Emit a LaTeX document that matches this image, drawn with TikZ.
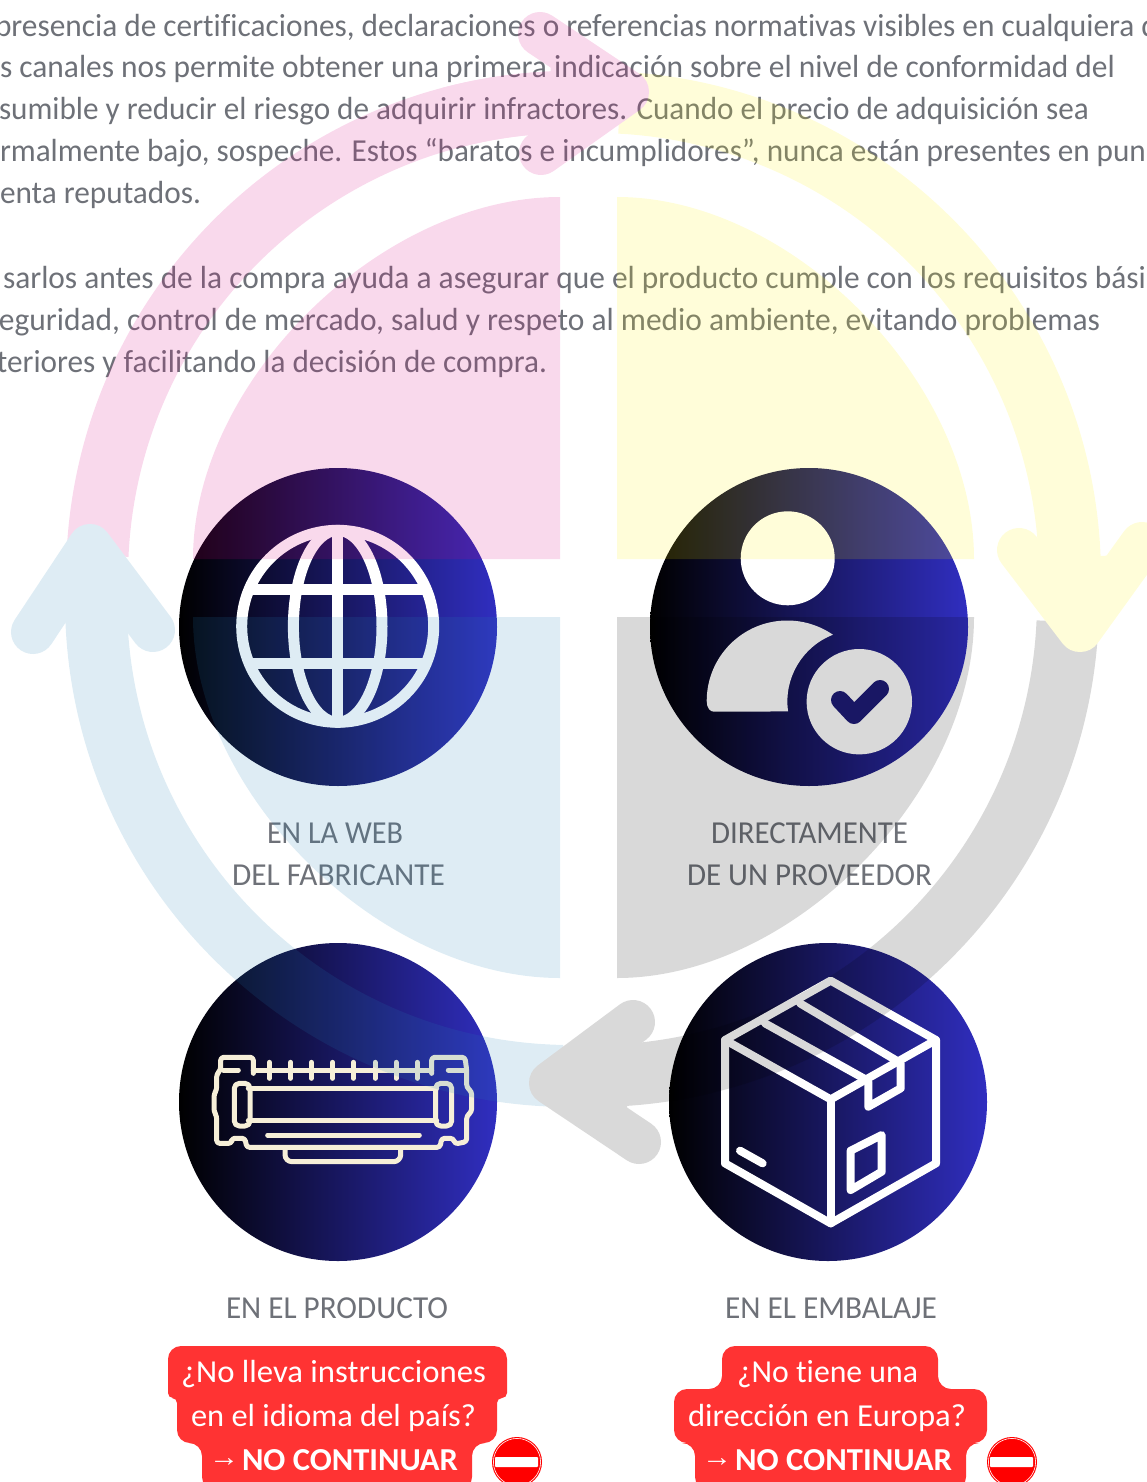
\documentclass[tikz,border=0pt]{standalone}
\usepackage{graphicx}
\usepackage{fontspec}
\usetikzlibrary{calc}
\setmainfont{Carlito}[Ligatures=NoCommon]
\newfontfamily\arrowfont{Liberation Sans}
\definecolor{txtgrey}{RGB}{110,113,120}
\definecolor{discblue}{RGB}{48,46,192}
\definecolor{ovpink}{RGB}{215,0,128}
\definecolor{ovyellow}{RGB}{255,242,0}
\definecolor{ovblue}{RGB}{35,128,182}
\definecolor{callred}{RGB}{255,51,51}
\definecolor{tonercream}{RGB}{246,239,216}
\definecolor{checkblue}{RGB}{30,28,118}
\tikzset{
  txt/.style={anchor=base west,inner sep=0pt,outer sep=0pt,text=txtgrey,font=\fontsize{32}{36}\selectfont},
  calltxt/.style={txt,text=white},
  disc/.style={circle,inner sep=0pt,minimum size=318pt,left color=black,right color=discblue},
  callbox/.style={fill=callred,line join=round},
  globeline/.style={draw=white,line width=11pt},
  boxline/.style={draw=white,line width=8pt,line join=round,line cap=round},
  tonerline/.style={draw=tonercream,line width=5pt,line join=round,line cap=round,rounded corners=3pt},
  nosign/.style={circle,inner sep=0pt,minimum size=50pt,fill=red},
  nobar/.style={fill=white,rounded corners=0.8pt}
}
% name, x0, baseline, x1, style, text
\newcommand\fittext[6]{\pgfmathsetmacro\fitw{#4-(#2)}\node[#5] (#1) at (#2,#3) {\resizebox{\fitw pt}{\height}{#6}};}
% ring segment: centre x, y, start angle, end angle, colour
\newcommand\ringseg[5]{\fill[#5] ([shift={(#1,#2)}]#3:506) arc[start angle=#3,end angle=#4,radius=506] -- ([shift={(#1,#2)}]#4:444) arc[start angle=#4,end angle=#3,radius=444] -- cycle;}
\newcommand\headpoly[4]{\fill[#4] #1 -- ($#1!0.88!#2$) -- ($#1!0.88!#3$) -- cycle;\draw[#4,line width=44pt,line join=round,line cap=round] #2 -- #1 -- #3;}
\begin{document}
\begin{tikzpicture}[x=1pt,y=-1pt]
\useasboundingbox (0,0) rectangle (1147,1482);
\begin{scope}
\clip (0,0) rectangle (1147,1482);
% body text
\fittext{t1}{-5}{36.5}{1158}{txt}{presencia de certificaciones, declaraciones o referencias normativas visibles en cualquiera d}
\fittext{t2}{0}{78}{1115}{txt}{s canales nos permite obtener una primera indicación sobre el nivel de conformidad del}
\fittext{t3}{-1}{120}{1089}{txt}{sumible y reducir el riesgo de adquirir infractores. Cuando el precio de adquisición sea}
\fittext{t4}{0}{162}{1146}{txt}{rmalmente bajo, sospeche. Estos “baratos e incumplidores”, nunca están presentes en pun}
\fittext{t5}{0}{204}{201}{txt}{enta reputados.}
\fittext{t6}{3}{288}{1146}{txt}{sarlos antes de la compra ayuda a asegurar que el producto cumple con los requisitos bási}
\fittext{t7}{-1}{330}{1100}{txt}{eguridad, control de mercado, salud y respeto al medio ambiente, evitando problemas}
\fittext{t8}{-3}{372}{547}{txt}{teriores y facilitando la decisión de compra.}
% labels
\fittext{l1}{267}{843}{403}{txt}{EN LA WEB}
\fittext{l2}{232}{885}{445}{txt}{DEL FABRICANTE}
\fittext{l3}{711}{843}{908}{txt}{DIRECTAMENTE}
\fittext{l4}{687}{885}{932}{txt}{DE UN PROVEEDOR}
\fittext{l5}{226}{1318}{448}{txt}{EN EL PRODUCTO}
\fittext{l6}{725}{1318}{937}{txt}{EN EL EMBALAJE}
% discs
\node[disc] (d1) at (338,627) {};
\node[disc] (d2) at (809,627) {};
\node[disc] (d3) at (338,1102) {};
\node[disc] (d4) at (828,1102) {};
% globe
\begin{scope}
\path[globeline] (337.7,626.3) circle (96);
\path[globeline] (337.7,626.3) ellipse (44.3 and 96);
\path[globeline] (337.7,530) -- (337.7,722);
\clip (337.7,626.3) circle (96);
\path[globeline] (235,589) -- (440,589);
\path[globeline] (235,663.5) -- (440,663.5);
\end{scope}
% person
\fill[white] (787.7,558.3) circle (47);
\fill[white] (706.7,701) arc[start angle=180,end angle=304.6,radius=80.5]
  arc[start angle=248.7,end angle=171.9,radius=71.5]
  -- (714,711.7) .. controls (710,711.7) and (706.7,708) .. (706.7,701) -- cycle;
\fill[white] (859.3,701.7) circle (52.7);
\draw[checkblue,line width=18pt,line cap=round,line join=round] (840,700) -- (854,715) -- (880,689);
% toner
\begin{scope}[shift={(190,1030)},x=0.33333pt,y=-0.33333pt]
\path[tonerline] (190,130) -- (190,82) -- (92,82) -- (92,120) -- (80,132) -- (80,180) -- (72,192) -- (72,245) -- (80,258) -- (80,340) -- (125,340) -- (125,325) -- (165,325) -- (170,352) -- (750,352) -- (755,325) -- (790,325) -- (795,342) -- (830,335) -- (830,258) -- (845,245) -- (845,185) -- (830,172) -- (830,120) -- (825,82) -- (725,82) -- (725,130);
\path[tonerline] (100,120) -- (145,120);
\path[tonerline] (775,120) -- (828,120);
\path[tonerline] (190,120) -- (725,120);
\foreach \tx in {238,302,364,428,490,555,618,682} \path[tonerline] (\tx,97) -- (\tx,145);
\path[tonerline] (175,175) -- (740,175);
\path[tonerline] (175,272) -- (740,272);
\path[tonerline,rounded corners=5pt] (133,160) rectangle (180,288);
\path[tonerline,rounded corners=5pt] (737,160) rectangle (785,288);
\path[tonerline] (233,315) -- (688,315);
\path[tonerline,rounded corners=7pt] (285,355) -- (285,395) -- (632,395) -- (632,355);
\end{scope}
% box
\begin{scope}[shift={(690,960)},x=0.33333pt,y=-0.33333pt]
\path[boxline] (105,240) -- (422,62) -- (738,240) -- (422,418) -- cycle;
\path[boxline] (105,240) -- (105,610) -- (422,790) -- (738,610) -- (738,240);
\path[boxline] (422,418) -- (422,790);
\path[boxline] (225,190) -- (530,360);
\path[boxline] (330,130) -- (625,305);
\path[boxline] (535,365) -- (535,440) -- (632,385) -- (632,310);
\path[boxline] (482,572) -- (575,525) -- (575,635) -- (482,690) -- cycle;
\path[boxline] (150,572) -- (218,610);
\end{scope}
% callouts
\path[callbox] [rounded corners=13pt] (168,1346) -- (507,1346) [rounded corners=5pt] -- (507,1398) -- (497,1398) [rounded corners=13pt] -- (497,1443) -- (472,1443) -- (472,1490) -- (202,1490) -- (202,1443) -- (177,1443) [rounded corners=5pt] -- (177,1398) -- (168,1398) [rounded corners=13pt] -- cycle;
\path[callbox] [rounded corners=13pt] (722,1346) -- (938,1346) -- (938,1389) -- (987,1389) -- (987,1443) -- (966,1443) -- (966,1490) -- (695,1490) -- (695,1443) -- (674,1443) -- (674,1389) -- (722,1389) -- cycle;
\fittext{c1}{181}{1382}{486}{calltxt}{¿No lleva instrucciones}
\fittext{c2}{191}{1426}{476}{calltxt}{en el idioma del país?}
\fittext{c3}{209}{1466}{239}{calltxt}{\arrowfont\fontsize{28}{32}\selectfont →}
\fittext{c4}{242}{1470}{458}{calltxt}{\bfseries NO CONTINUAR}
\fittext{c5}{737}{1382}{918}{calltxt}{¿No tiene una}
\fittext{c6}{688}{1426}{966}{calltxt}{dirección en Europa?}
\fittext{c7}{702}{1466}{732}{calltxt}{\arrowfont\fontsize{28}{32}\selectfont →}
\fittext{c8}{735}{1470}{952}{calltxt}{\bfseries NO CONTINUAR}
% no entry signs
\node[nosign] (n1) at (517,1462) {};
\draw[white,line width=0.6pt] (n1) circle (23.6);
\fill[nobar] (495,1457) rectangle (538,1467);
\node[nosign] (n2) at (1012,1462) {};
\draw[white,line width=0.6pt] (n2) circle (23.6);
\fill[nobar] (990,1457) rectangle (1033,1467);
% translucent cycle graphic on top
\begin{scope}[transparency group,opacity=0.15]
\fill[ovpink] (560,559) -- (560,197) .. controls (380,197) and (193,382) .. (193,559) -- cycle;
\fill[ovyellow] (617,559) -- (617,197) .. controls (792,197) and (974,382) .. (974,559) -- cycle;
\fill[ovblue] (560,617) -- (560,978) .. controls (380,978) and (193,794) .. (193,617) -- cycle;
\fill[black] (617,617) -- (617,978) .. controls (792,978) and (974,794) .. (974,617) -- cycle;
\ringseg{572}{577}{182.6}{270}{ovpink}
\ringseg{571}{601}{91}{179}{ovblue}
\headpoly{(90,546)}{(33,632)}{(153,630)}{ovblue}
\ringseg{593}{601}{2.5}{90}{black}
\headpoly{(551,1083)}{(633,1022)}{(639,1142)}{black}
\ringseg{595}{577}{273}{359}{ovyellow}
\headpoly{(1080,630)}{(1019,550)}{(1142,544)}{ovyellow}
\ringseg{572}{577}{255}{270}{ovpink}
\headpoly{(627,92)}{(540,34)}{(541,153)}{ovpink}
\end{scope}
\end{scope}
\end{tikzpicture}
\end{document}
